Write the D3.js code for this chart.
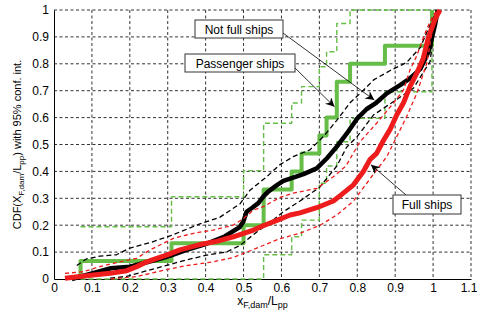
<!DOCTYPE html>
<meta charset="utf-8">
<script src="https://d3js.org/d3.v7.min.js"></script>
<style>
  body { margin: 0; background: #fff; }
  text { font-family: "Liberation Sans", Arial, sans-serif; }
</style>
<div id="chart"></div>
<script>
// tick values
var xTicks = [0, 0.1, 0.2, 0.3, 0.4, 0.5, 0.6, 0.7, 0.8, 0.9, 1, 1.1];
var yTicks = [0, 0.1, 0.2, 0.3, 0.4, 0.5, 0.6, 0.7, 0.8, 0.9, 1];

// passenger ships: empirical cdf steps and 95% bounds
var passengerX     = [0.07, 0.31, 0.50, 0.553, 0.627, 0.653, 0.70, 0.719, 0.746, 0.781, 0.873, 0.997];
var passengerCdf   = [0.067, 0.133, 0.20, 0.333, 0.40, 0.467, 0.533, 0.60, 0.733, 0.80, 0.867, 1.0];
var passengerUpper = [0.194, 0.306, 0.403, 0.579, 0.654, 0.715, 0.789, 0.845, 0.95, 1.0, 1.0, 1.0];
var passengerLower = [0, 0, 0, 0.09, 0.157, 0.219, 0.356, 0.42, 0.51, 0.597, 0.696, 1.0];

// not full ships
var notFullCdf = [[0.047,0],[0.1,0.021],[0.15,0.04],[0.2,0.046],[0.25,0.064],[0.3,0.083],[0.35,0.108],
  [0.4,0.13],[0.45,0.158],[0.49,0.193],[0.5,0.215],[0.508,0.25],[0.522,0.264],[0.539,0.282],[0.552,0.306],
  [0.565,0.325],[0.588,0.349],[0.605,0.365],[0.631,0.377],[0.658,0.39],[0.693,0.411],[0.72,0.449],
  [0.746,0.492],[0.772,0.54],[0.799,0.595],[0.825,0.632],[0.85,0.655],[0.878,0.69],[0.913,0.721],
  [0.939,0.746],[0.966,0.78],[0.988,0.845],[1.005,0.944],[1.012,1.0]];
var notFullUpper = [[0.06,0.05],[0.086,0.075],[0.121,0.085],[0.165,0.09],[0.2,0.115],[0.253,0.135],
  [0.306,0.16],[0.35,0.185],[0.385,0.205],[0.438,0.23],[0.491,0.28],[0.517,0.33],[0.561,0.38],
  [0.596,0.425],[0.631,0.455],[0.675,0.48],[0.711,0.53],[0.746,0.59],[0.781,0.655],[0.815,0.7],
  [0.843,0.74],[0.887,0.775],[0.93,0.805],[0.966,0.86],[0.992,0.944],[1.01,1.0]];
var notFullLower = [[0.148,0.003],[0.192,0.01],[0.236,0.027],[0.3,0.052],[0.35,0.071],[0.4,0.088],
  [0.456,0.101],[0.491,0.125],[0.535,0.175],[0.57,0.21],[0.605,0.25],[0.649,0.29],[0.7,0.34],
  [0.746,0.42],[0.772,0.49],[0.8,0.53],[0.843,0.61],[0.895,0.659],[0.948,0.709],[0.992,0.808],
  [1.0,0.895],[1.01,1.0]];

// full ships
var fullCdf = [[0.029,0.003],[0.069,0.009],[0.104,0.015],[0.148,0.021],[0.192,0.031],[0.218,0.046],
  [0.245,0.064],[0.271,0.077],[0.297,0.089],[0.332,0.108],[0.385,0.128],[0.429,0.14],[0.473,0.157],
  [0.526,0.182],[0.552,0.198],[0.588,0.218],[0.623,0.238],[0.649,0.246],[0.693,0.265],[0.737,0.29],
  [0.755,0.31],[0.79,0.35],[0.816,0.4],[0.834,0.445],[0.851,0.467],[0.869,0.515],[0.887,0.557],
  [0.904,0.61],[0.922,0.655],[0.939,0.715],[0.957,0.765],[0.974,0.82],[0.988,0.9],[1.005,0.965],[1.018,1.0]];
var fullUpper = [[0.029,0.021],[0.077,0.027],[0.121,0.046],[0.174,0.064],[0.218,0.077],[0.253,0.108],
  [0.315,0.151],[0.368,0.17],[0.42,0.182],[0.473,0.2],[0.5,0.225],[0.526,0.256],[0.552,0.269],
  [0.596,0.303],[0.631,0.319],[0.693,0.337],[0.737,0.38],[0.77,0.42],[0.807,0.51],[0.851,0.579],
  [0.895,0.653],[0.922,0.703],[0.939,0.777],[0.957,0.83],[0.975,0.9],[0.988,0.944],[1.0,0.98],[1.012,1.0]];
var fullLower = [[0.15,0],[0.218,0.009],[0.297,0.035],[0.35,0.05],[0.42,0.064],[0.473,0.08],[0.5,0.095],
  [0.544,0.12],[0.596,0.15],[0.649,0.17],[0.702,0.2],[0.746,0.238],[0.79,0.29],[0.825,0.356],
  [0.851,0.405],[0.878,0.455],[0.904,0.529],[0.93,0.603],[0.957,0.69],[0.983,0.8],[0.995,0.9],
  [1.005,0.97],[1.02,1.0]];

var width = 478, height = 312;
var margin = {left: 54, right: 471, top: 10, bottom: 279};

var svg = d3.select("#chart").append("svg")
    .attr("width", width)
    .attr("height", height);

var x = d3.scaleLinear().domain([0, 1.1]).range([margin.left, margin.right]);
var y = d3.scaleLinear().domain([0, 1]).range([margin.bottom, margin.top]);

var green = "#66bd47", red = "#ee1c1c";

// grid
svg.append("g").selectAll("line")
    .data(xTicks.slice(1))
  .enter().append("line")
    .attr("x1", function(d) { return x(d); })
    .attr("x2", function(d) { return x(d); })
    .attr("y1", margin.top).attr("y2", margin.bottom)
    .attr("stroke", "#333").attr("stroke-width", 1)
    .attr("stroke-dasharray", "3,2.5");
svg.append("g").selectAll("line")
    .data(yTicks.slice(1))
  .enter().append("line")
    .attr("y1", function(d) { return y(d); })
    .attr("y2", function(d) { return y(d); })
    .attr("x1", margin.left).attr("x2", margin.right)
    .attr("stroke", "#333").attr("stroke-width", 1)
    .attr("stroke-dasharray", "3,2.5");

// axes
function fmt(d) { return String(+d.toFixed(1)); }
svg.append("g")
    .attr("transform", "translate(0," + margin.bottom + ")")
    .call(d3.axisBottom(x).tickValues(xTicks).tickSize(0).tickPadding(4).tickFormat(fmt))
    .call(function(g) {
      g.select(".domain").attr("stroke", "#000");
      g.selectAll("text").attr("font-size", "12px").attr("fill", "#000");
      // keep the last label inside the picture
      g.selectAll(".tick").filter(function(d) { return d === 1.1; })
        .select("text").attr("dx", -2.5);
    });
svg.append("g")
    .attr("transform", "translate(" + margin.left + ",0)")
    .call(d3.axisLeft(y).tickValues(yTicks).tickSize(0).tickPadding(5).tickFormat(fmt))
    .call(function(g) {
      g.select(".domain").attr("stroke", "#000");
      g.selectAll("text").attr("font-size", "12px").attr("fill", "#000");
    });

// helpers
var stepLine = d3.line()
    .x(function(d) { return x(d[0]); })
    .y(function(d) { return y(d[1]); })
    .curve(d3.curveStepAfter);
var plainLine = d3.line()
    .x(function(d) { return x(d[0]); })
    .y(function(d) { return y(d[1]); });

function zipSteps(xs, ys, start) {
  var pts = start ? [start] : [];
  xs.forEach(function(v, i) { pts.push([v, ys[i]]); });
  return pts;
}

var plot = svg.append("g");

function draw(pts, gen, color, w, dash) {
  plot.append("path")
      .attr("d", gen(pts))
      .attr("fill", "none")
      .attr("stroke", color)
      .attr("stroke-width", w)
      .attr("stroke-linejoin", "round")
      .attr("stroke-dasharray", dash || null);
}

// passenger ships
draw(zipSteps(passengerX, passengerUpper), stepLine, green, 1.4, "5,3");
draw(zipSteps(passengerX, passengerLower, [passengerX[0], 0]), stepLine, green, 1.4, "5,3");
draw(zipSteps(passengerX, passengerCdf, [passengerX[0], 0]), stepLine, green, 4);

// not full ships
draw(notFullUpper, plainLine, "#000", 1.3, "5,3");
draw(notFullLower, plainLine, "#000", 1.3, "5,3");
draw(notFullCdf, plainLine, "#000", 4.5);

// full ships
draw(fullUpper, plainLine, red, 1.3, "4,3");
draw(fullLower, plainLine, red, 1.3, "4,3");
draw(fullCdf, plainLine, red, 5);

// annotations
svg.append("defs").append("marker")
    .attr("id", "arrow")
    .attr("viewBox", "0 0 10 10")
    .attr("refX", 10).attr("refY", 5)
    .attr("markerWidth", 11).attr("markerHeight", 9)
    .attr("markerUnits", "userSpaceOnUse")
    .attr("orient", "auto")
  .append("path")
    .attr("d", "M0,0 L10,5 L0,10 L3,5 Z")
    .attr("fill", "#000");

var notes = [
  {text: "Not full ships", bx: 195, by: 20, bw: 88, bh: 18, from: [283, 33], to: [0.845, 0.665]},
  {text: "Passenger ships", bx: 185, by: 54, bw: 110, bh: 18, from: [294, 67], to: [0.74, 0.64]},
  {text: "Full ships", bx: 393, by: 195, bw: 68, bh: 19, from: [406, 195], to: [0.836, 0.425]}
];

notes.forEach(function(n) {
  svg.append("line")
      .attr("x1", n.from[0]).attr("y1", n.from[1])
      .attr("x2", x(n.to[0])).attr("y2", y(n.to[1]))
      .attr("stroke", "#000").attr("stroke-width", 0.8)
      .attr("marker-end", "url(#arrow)");
  svg.append("rect")
      .attr("x", n.bx).attr("y", n.by)
      .attr("width", n.bw).attr("height", n.bh)
      .attr("fill", "#fff").attr("stroke", "#333").attr("stroke-width", 1);
  svg.append("text")
      .attr("x", n.bx + n.bw / 2).attr("y", n.by + n.bh / 2 + 4.5)
      .attr("text-anchor", "middle")
      .attr("font-size", "12px")
      .text(n.text);
});

// axis labels
var xl = svg.append("text")
    .attr("x", (margin.left + margin.right) / 2).attr("y", 305)
    .attr("text-anchor", "middle")
    .attr("font-size", "12px");
xl.append("tspan").text("x");
xl.append("tspan").attr("font-size", "9px").attr("dy", 3).text("F,dam");
xl.append("tspan").attr("dy", -3).text("/L");
xl.append("tspan").attr("font-size", "9px").attr("dy", 3).text("pp");

var yl = svg.append("text")
    .attr("transform", "translate(21," + ((margin.top + margin.bottom) / 2) + ") rotate(-90)")
    .attr("text-anchor", "middle")
    .attr("font-size", "11px");
yl.append("tspan").text("CDF(X");
yl.append("tspan").attr("font-size", "8px").attr("dy", 3).text("F,dam");
yl.append("tspan").attr("dy", -3).text("/L");
yl.append("tspan").attr("font-size", "8px").attr("dy", 3).text("pp");
yl.append("tspan").attr("dy", -3).text(") with 95% conf. int.");
</script>
